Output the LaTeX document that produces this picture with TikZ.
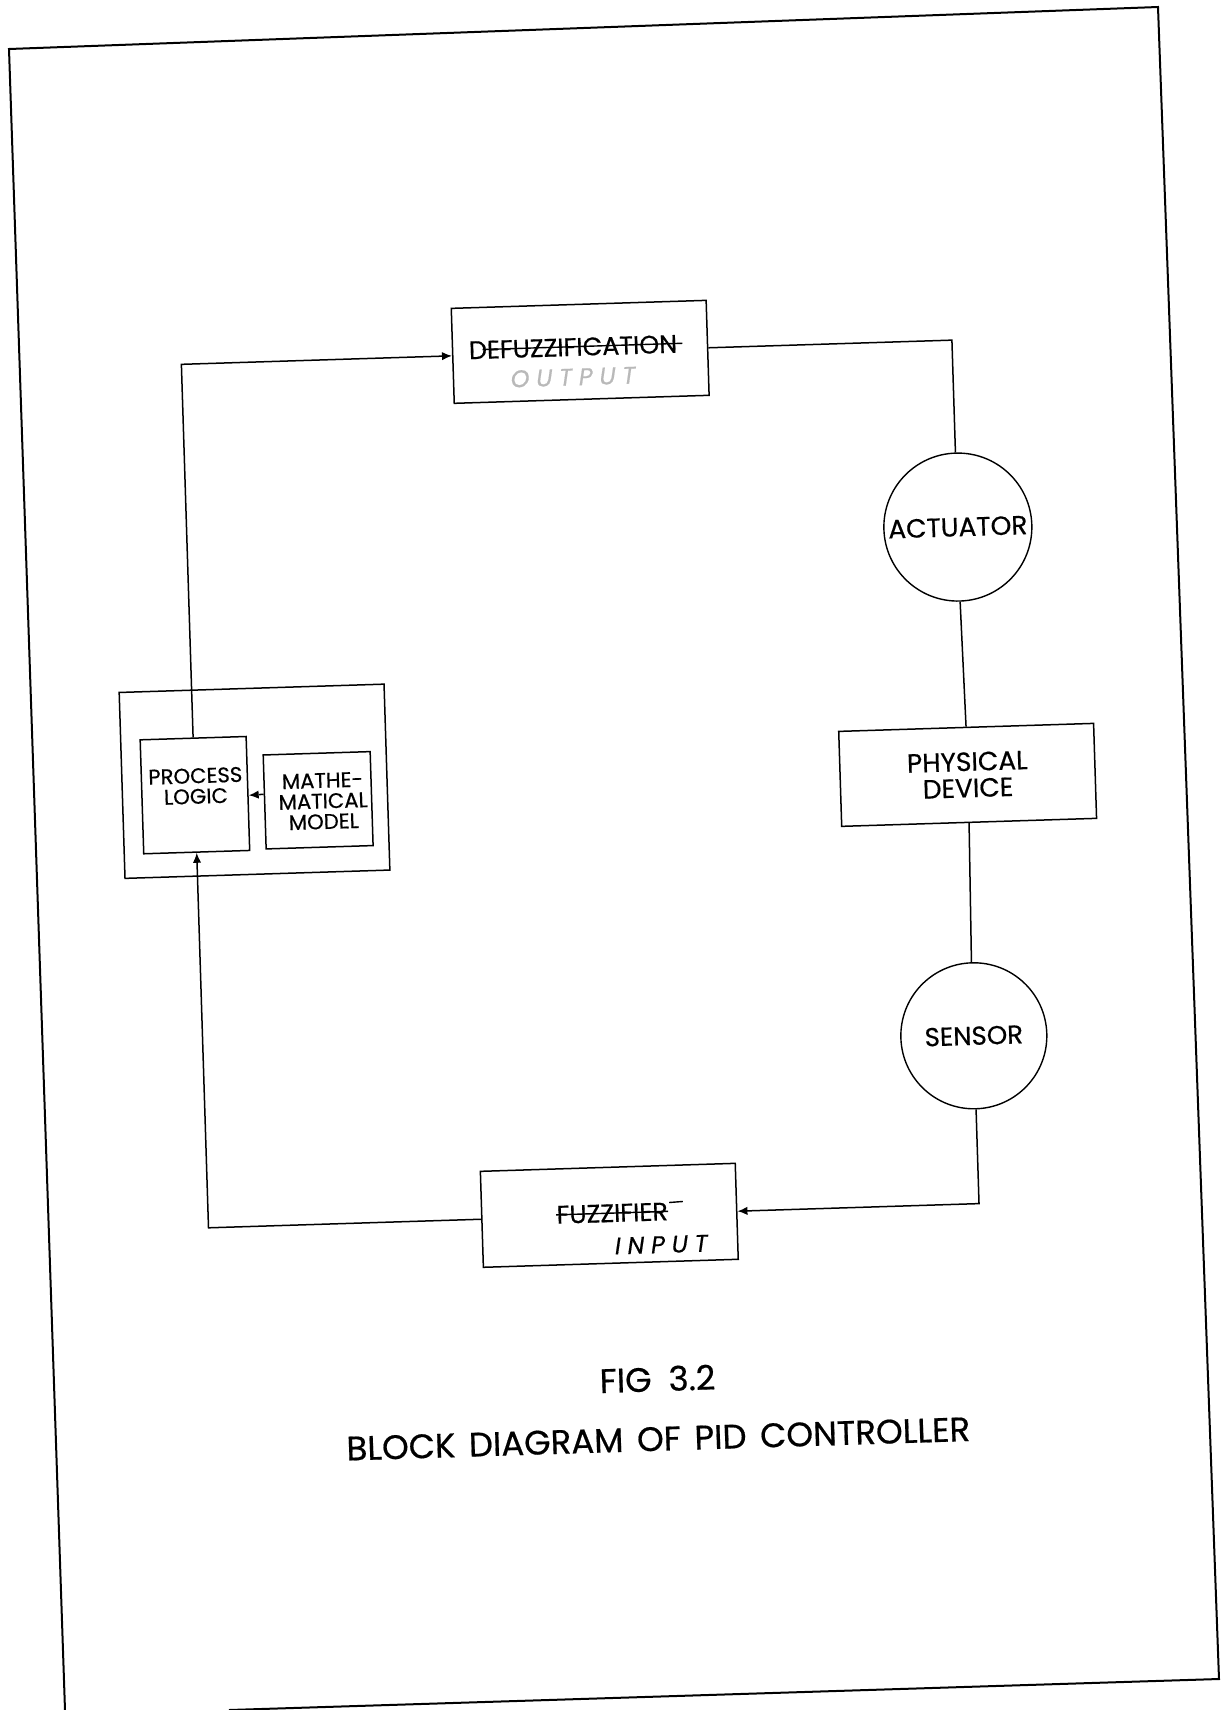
\documentclass[tikz,border=0pt]{standalone}
\usepackage{fontspec}
\setmainfont{Poppins}[FakeBold=0.5]
\usetikzlibrary{arrows.meta}
\begin{document}
\begin{tikzpicture}[x=0.5pt,y=-0.5pt,
  blk/.style={draw,line width=0.75pt,inner sep=0pt},
  circ/.style={draw,circle,line width=0.7pt,minimum size=74pt,inner sep=0pt},
  conn/.style={line width=0.75pt},
  arr/.style={conn,-{Latex[length=5pt,width=4.2pt]}},
  txt/.style={inner sep=0pt,align=center},
  strike/.style={line width=0.7pt},
  boxfont/.style={font=\fontsize{12.7}{14}\selectfont},
  smallfont/.style={font=\fontsize{10.6}{10.3}\selectfont},
  handfont/.style={font=\fontsize{12}{14}\selectfont\itshape\addfontfeatures{LetterSpace=28}}]
\useasboundingbox (0,0) rectangle (1229,1710);
% scanned page border
\draw[line width=1pt,line join=miter] (65,1710) -- (9,49) -- (1158,7) -- (1219,1679) -- (229,1710);
\begin{scope}[rotate around={1.8:(614,855)},transform shape]
  % blocks
  \node[blk,minimum width=127.5pt,minimum height=47.5pt] (defuzz) at (596,351) {};
  \node[txt,boxfont] (dtxt) at (589,346) {DEFUZZIFICATION};
  \node[txt,handfont,text=gray!55] (otxt) at (588,376) {OUTPUT};
  \node[circ,font=\fontsize{13.2}{15}\selectfont] (act) at (968,538) {ACTUATOR};
  \node[blk,minimum width=127.5pt,minimum height=47.5pt,align=center,font=\fontsize{13.2}{13.2}\selectfont] (phys) at (970,786) {PHYSICAL\\DEVICE};
  \node[circ,minimum size=73pt,font=\fontsize{13}{15}\selectfont] (sens) at (968,1047) {SENSOR};
  \node[blk,minimum width=127.5pt,minimum height=48pt] (fuzz) at (598,1215) {};
  \node[txt,boxfont] (ftxt) at (601,1213) {FUZZIFIER};
  \node[txt,handfont] (itxt) at (649,1246) {INPUT};
  \node[blk,minimum width=132.5pt,minimum height=93pt] (outer) at (257,770) {};
  \node[blk,minimum width=53pt,minimum height=57pt] (pl) at (197,782) {};
  \node[txt,smallfont] (pltxt) at (198,773) {PROCESS\\LOGIC};
  \node[blk,minimum width=53.5pt,minimum height=47pt] (mm) at (320,791) {};
  \node[txt,smallfont] (mmtxt) at (325,792) {MATHE-\\MATICAL\\MODEL};
  % strike-throughs
  \draw[strike] ([xshift=7pt,yshift=4.6pt]dtxt.base west) -- ([xshift=2.5pt,yshift=4.6pt]dtxt.base east);
  \draw[strike] ([yshift=4.4pt]ftxt.base west) -- ([yshift=4.4pt]ftxt.base east);
  \draw[strike] ([xshift=0.6pt,yshift=8.8pt]ftxt.base east) -- ([xshift=7.5pt,yshift=9.1pt]ftxt.base east);
  % loop corners
  \coordinate (tl) at (197,351);
  \coordinate (tr) at (968,351);
  \coordinate (br) at (968,1215);
  \coordinate (bl) at (197,1215);
  % connectors
  \draw[arr] (pl.north) -- (tl) -- (defuzz.west);
  \draw[conn] (defuzz.east) -- (tr) -- (act.north);
  \draw[conn] (act.south) -- (phys.north);
  \draw[conn] (phys.south) -- (sens.north);
  \draw[arr] (sens.south) -- (br) -- (fuzz.east);
  \draw[arr] (fuzz.west) -- (bl) -- (pl.south);
  \draw[arr,dash pattern=on 2.5pt off 1.5pt] (mm.172.5) -- (pl.-2);
  % caption
  \node[txt,font=\fontsize{17}{20}\selectfont] (fig) at (641,1380) {FIG\hspace{0.5em}3.2};
  \node[txt,font=\fontsize{17}{20}\selectfont] (cap) at (640,1440) {BLOCK\hspace{0.4em}DIAGRAM\hspace{0.4em}OF\hspace{0.4em}PID\hspace{0.4em}CONTROLLER};
\end{scope}
\end{tikzpicture}
\end{document}
